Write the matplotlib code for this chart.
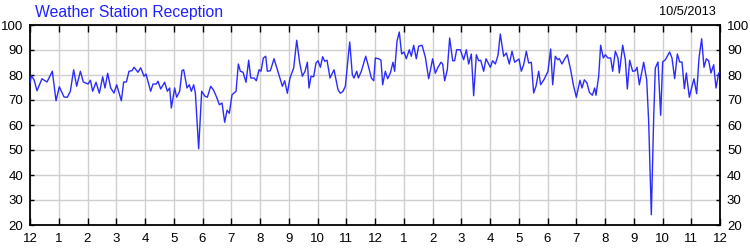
import numpy as np
import matplotlib
matplotlib.use("Agg")
import matplotlib.pyplot as plt

# minutes since midnight, reception percentage
minutes = [
    0, 2.8, 8.4, 14.6, 25.0, 35.5, 46.6, 54.3, 61.2, 71.0, 77.9, 84.2, 91.1, 97.4,
    105.1, 111.3, 121.1, 126.1, 130.8, 137.8, 144.7, 151.7, 156.5, 162.1, 168.4,
    175.3, 180.9, 190.6, 195.5, 201.1, 206.6, 212.9, 217.1, 225.4, 231.0, 237.9,
    242.1, 251.8, 256.7, 263.7, 267.1, 272.7, 281.0, 286.6, 291.5, 295.0, 301.9,
    306.1, 312.4, 317.2, 320.7, 327.7, 332.5, 336.7, 341.6, 345.1, 352.0, 358.3,
    365.2, 370.1, 377.1, 382.6, 389.6, 395.2, 400.7, 406.3, 411.2, 416.0, 421.6,
    430.0, 434.8, 439.0, 444.6, 450.8, 456.4, 460.6, 467.5, 472.4, 478.0, 482.1,
    487.0, 491.9, 495.3, 501.6, 509.3, 516.2, 526.7, 531.5, 537.1, 542.6, 550.3,
    556.6, 562.8, 568.4, 574.0, 578.8, 582.3, 586.5, 592.0, 596.9, 601.1, 606.0,
    610.8, 615.0, 619.9, 626.1, 634.5, 642.8, 647.7, 653.3, 658.1, 667.2, 672.7,
    676.2, 681.8, 685.3, 691.5, 700.6, 705.4, 712.4, 717.3, 720.7, 729.0, 732.5,
    736.0, 741.5, 746.4, 752.0, 757.5, 761.0, 765.9, 770.7, 775.6, 780.5, 785.4,
    791.6, 795.8, 800.7, 806.2, 811.1, 818.1, 825.0, 832.0, 840.3, 845.9, 851.5,
    857.7, 861.2, 865.4, 870.9, 875.8, 882.1, 886.2, 890.4, 898.1, 905.0, 910.6,
    915.5, 921.0, 925.9, 931.5, 936.3, 940.5, 946.8, 951.6, 960.7, 965.5, 971.1,
    976.7, 981.5, 988.5, 994.1, 1000.3, 1005.9, 1011.5, 1020.5, 1025.4, 1030.2,
    1035.8, 1040.7, 1046.3, 1051.1, 1056.0, 1061.6, 1065.7, 1073.4, 1081.0,
    1086.6, 1090.8, 1096.3, 1101.2, 1104.7, 1110.2, 1115.8, 1121.4, 1128.3,
    1133.9, 1140.2, 1147.8, 1152.0, 1156.9, 1162.4, 1167.3, 1173.6, 1178.4,
    1181.2, 1186.8, 1190.9, 1196.5, 1200.7, 1206.2, 1211.8, 1216.0, 1221.6,
    1227.1, 1229.9, 1236.9, 1242.4, 1246.6, 1251.5, 1257.7, 1263.3, 1266.8,
    1271.7, 1277.2, 1280.7, 1287.0, 1291.1, 1296.7, 1301.6, 1305.0, 1310.6,
    1316.2, 1320.3, 1325.9, 1334.9, 1339.8, 1345.4, 1351.0, 1355.8, 1360.7,
    1365.6, 1369.7, 1376.0, 1381.6, 1385.7, 1391.3, 1396.2, 1401.7, 1406.6,
    1411.5, 1416.4, 1421.2, 1426.8, 1431.7, 1437.3, 1440,
]
reception = [
    76.8, 79.7, 78.1, 73.7, 78.5, 77.2, 81.5, 69.7, 75.3, 71.2, 71.1, 73.5, 82.1, 75.5,
    81.5, 77.2, 76.4, 77.9, 73.5, 77.1, 72.7, 79.3, 74.8, 80.7, 74.8,
    72.8, 76.1, 69.7, 77.2, 77.2, 81.5, 81.7, 83.1, 81.1, 82.9, 79.5,
    80.4, 73.5, 76.4, 76.4, 77.5, 74.4, 77.1, 73.5, 74.8, 66.8, 74.8,
    71.1, 73.5, 81.7, 82.1, 74.8, 76.1, 73.5, 76.1, 72.8, 50.5, 73.5,
    71.5, 71.1, 75.5, 74.1, 71.1, 68.1, 68.8, 61.1, 65.9, 64.7, 72.1,
    73.5, 84.4, 81.5, 81.1, 77.1, 85.9, 78.8, 78.8, 77.7, 82.1, 81.5,
    86.8, 87.5, 81.5, 81.7, 86.5, 82.1, 75.5, 77.7, 72.7, 78.8, 82.8,
    93.9, 84.8, 79.5, 81.5, 85.1, 74.8, 79.5, 79.3, 84.8, 85.7, 83.1,
    87.3, 85.5, 85.9, 78.8, 82.1, 74.1, 72.7, 73.5, 75.5, 93.2, 80.1,
    78.8, 81.5, 78.8, 81.5, 87.5, 84.1, 78.8, 77.7, 86.8, 86.4, 85.9,
    76.1, 81.5, 78.5, 80.8, 85.1, 81.5, 93.5, 97.2, 88.4, 89.2, 86.5,
    90.1, 87.5, 91.9, 86.5, 91.5, 91.9, 87.2, 78.5, 86.5, 80.7, 83.1,
    85.1, 84.4, 77.7, 82.1, 94.8, 85.7, 85.7, 90.1, 90.1, 86.1, 90.1,
    84.4, 88.4, 71.7, 88.1, 85.7, 85.9, 81.5, 86.5, 83.1, 85.7, 84.4,
    87.9, 96.4, 87.5, 88.8, 84.4, 89.5, 85.1, 86.4, 81.5, 84.1,
    89.5, 84.8, 85.1, 72.8, 75.5, 81.5, 76.1, 78.4, 81.5,
    90.4, 76.1, 87.5, 86.1, 86.5, 84.4, 86.4, 88.1, 82.1,
    76.1, 71.1, 77.9, 74.8, 78.1, 76.8, 73.1, 71.9, 74.8,
    71.9, 79.5, 91.9, 86.8, 88.1, 86.8, 86.8, 81.5, 89.5,
    86.8, 80.8, 91.9, 86.1, 74.4, 85.9, 81.5, 81.7, 83.1,
    76.1, 81.5, 85.1, 78.1, 61.5, 24.1, 62.8, 82.8, 85.2,
    63.9, 85.2, 86.1, 89.2, 86.8, 78.5, 88.4, 85.2, 85.2,
    74.5, 80.8, 71.1, 75.5, 78.5, 72.5, 86.8, 94.5, 83.1,
    86.5, 85.7, 80.8, 84.1, 74.8, 80.8, 81.1,
]

hour_labels = ["12"] + [str(h) for h in range(1, 12)] + ["12"] + [str(h) for h in range(1, 12)] + ["12"]
y_ticks = [20, 30, 40, 50, 60, 70, 80, 90, 100]

title = "Weather Station Reception"
date_text = "10/5/2013"

plt.rcParams["font.family"] = ["Liberation Sans", "DejaVu Sans"]

fig = plt.figure(figsize=(7.5, 2.5), dpi=100)
fig.patch.set_facecolor("white")
ax = fig.add_axes([0.04, 0.10, 0.92, 0.80])

ax.plot(minutes, reception, color="#2b2bff", linewidth=1.0, zorder=3)

ax.set_xlim(0, 1440)
ax.set_ylim(20, 100)
ax.set_xticks(np.arange(0, 1441, 60))
ax.set_xticklabels(hour_labels)
ax.set_yticks(y_ticks)

ax.grid(True, color="#cfcfcf", linewidth=1.0, zorder=0)
for s in ax.spines.values():
    s.set_linewidth(1.3)
    s.set_color("black")

ax.tick_params(axis="x", direction="in", length=5, width=1, top=True, bottom=True,
               labelsize=9.5, pad=6, colors="black")
ax.tick_params(axis="y", direction="in", length=3, width=1, left=True, right=True,
               labelleft=True, labelright=True, labelsize=9.5, pad=5, colors="black")

fig.text(0.047, 0.952, title, color="#2020ff", fontsize=11.3, va="center", ha="left")
fig.text(0.955, 0.952, date_text, color="black", fontsize=9.2, va="center", ha="right")

fig.savefig("out.png", dpi=100)
